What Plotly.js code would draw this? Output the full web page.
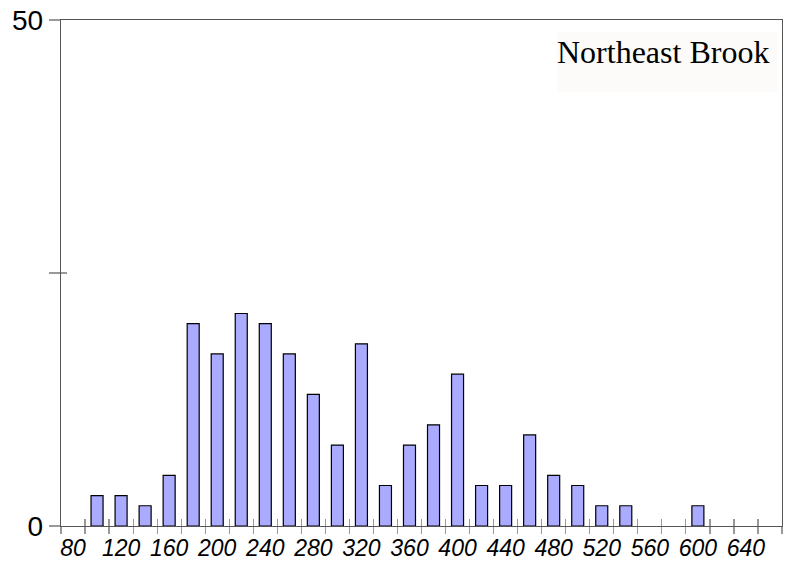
<!DOCTYPE html>
<html>
<head>
<meta charset="utf-8">
<script src="https://cdn.plot.ly/plotly-3.0.1.min.js"></script>
<style>
  html, body { margin: 0; padding: 0; background: #ffffff; }
  #chart { width: 785px; height: 565px; }
</style>
</head>
<body>
<div id="chart"></div>
<script>
// Length-class centres (mm) and fish counts for Northeast Brook
const lengthBins = [80, 100, 120, 140, 160, 180, 200, 220, 240, 260, 280, 300, 320, 340,
                    360, 380, 400, 420, 440, 460, 480, 500, 520, 540, 560, 580, 600, 620, 640];
const counts     = [0, 3, 3, 2, 5, 20, 17, 21, 20, 17, 13, 8, 18, 4,
                    8, 10, 15, 4, 4, 9, 5, 4, 2, 2, 0, 0, 2, 0, 0];

// Axis labelling
const xLabelVals = [80, 120, 160, 200, 240, 280, 320, 360, 400, 440, 480, 520, 560, 600, 640];
const xTickEdges = [70, 90, 110, 130, 150, 170, 190, 210, 230, 250, 270, 290, 310, 330, 350,
                    370, 390, 410, 430, 450, 470, 490, 510, 530, 550, 570, 590, 610, 630, 650, 670];
const yTickVals  = [0, 25, 50];
const yTickText  = ['0', '', '50'];
const siteName   = 'Northeast Brook';

// empty classes get no bar (so no outline is drawn on the baseline)
const filled = lengthBins.map((b, i) => [b, counts[i]]).filter(p => p[1] > 0);

const axisColor = '#555555';
const tickColor = '#999999';

const traces = [
  {
    type: 'bar',
    x: filled.map(p => p[0]),
    y: filled.map(p => p[1]),
    width: 10,
    marker: { color: '#aaaaff', line: { color: '#000000', width: 1.2 } },
    hoverinfo: 'x+y'
  },
  // empty trace so the inner-tick overlay axes get drawn
  { type: 'scatter', x: [], y: [], xaxis: 'x2', yaxis: 'y2', showlegend: false, hoverinfo: 'skip' }
];

const layout = {
  width: 785,
  height: 565,
  margin: { l: 61, r: 3, t: 20, b: 39, pad: 0 },
  paper_bgcolor: '#ffffff',
  plot_bgcolor: '#ffffff',
  showlegend: false,
  font: { family: 'Liberation Sans, Arial, sans-serif', color: '#000000' },
  xaxis: {
    range: [70, 670],
    tickvals: xLabelVals,
    ticktext: xLabelVals.map(String),
    ticks: 'outside',
    ticklen: 1,
    tickcolor: 'rgba(0,0,0,0)',
    tickfont: { size: 23, style: 'italic', family: 'Liberation Sans, Arial, sans-serif' },
    minor: { tickvals: xTickEdges, ticks: 'outside', ticklen: 7, tickcolor: tickColor, tickwidth: 1.2 },
    showline: true,
    linecolor: axisColor,
    linewidth: 1.3,
    mirror: true,
    showgrid: false,
    zeroline: false,
    fixedrange: true
  },
  xaxis2: {
    overlaying: 'x',
    anchor: 'y',
    side: 'bottom',
    range: [70, 670],
    tickvals: xTickEdges,
    ticks: 'inside',
    ticklen: 7,
    tickcolor: tickColor,
    tickwidth: 1.2,
    showticklabels: false,
    showline: false,
    showgrid: false,
    zeroline: false
  },
  yaxis: {
    range: [0, 50],
    tickvals: yTickVals,
    ticktext: yTickText,
    ticks: 'outside',
    ticklen: 11,
    tickcolor: tickColor,
    tickwidth: 1.2,
    tickfont: { size: 28 },
    showline: true,
    linecolor: axisColor,
    linewidth: 1.3,
    mirror: true,
    showgrid: false,
    zeroline: false,
    fixedrange: true
  },
  yaxis2: {
    overlaying: 'y',
    anchor: 'x',
    side: 'left',
    range: [0, 50],
    tickvals: [25],
    ticks: 'inside',
    ticklen: 6,
    tickcolor: tickColor,
    tickwidth: 1.2,
    showticklabels: false,
    showline: false,
    showgrid: false,
    zeroline: false
  },
  shapes: [
    {
      type: 'rect', xref: 'paper', yref: 'paper',
      x0: 0.6882, x1: 0.9934, y0: 0.8577, y1: 0.9763,
      fillcolor: '#fcfbfa', line: { width: 0 }, layer: 'below'
    }
  ],
  annotations: [
    {
      xref: 'paper', yref: 'paper',
      x: 0.8355, y: 0.9368,
      xanchor: 'center', yanchor: 'middle',
      text: siteName,
      showarrow: false,
      font: { family: 'Liberation Serif, Times New Roman, serif', size: 32, color: '#000000' }
    }
  ]
};

Plotly.newPlot('chart', traces, layout, { displayModeBar: false, staticPlot: true });
</script>
</body>
</html>
